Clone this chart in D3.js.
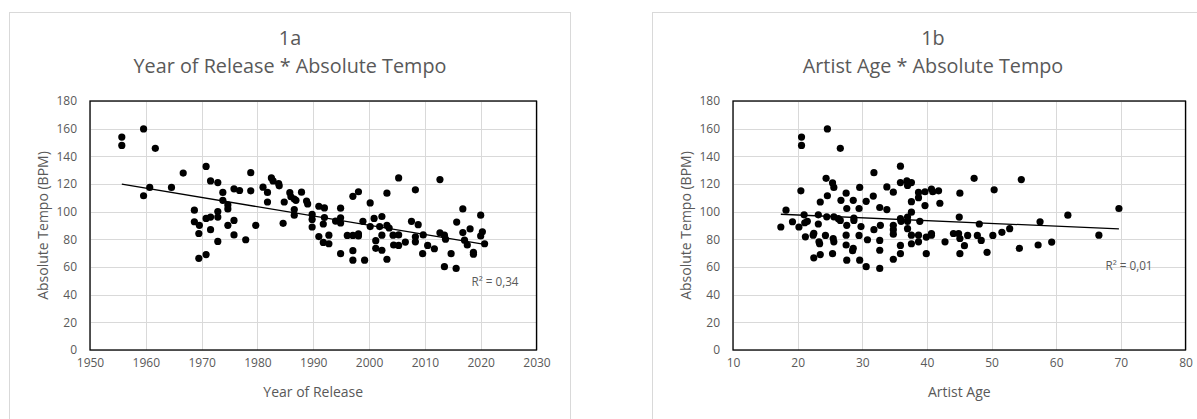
<!DOCTYPE html>
<html>
<head>
<meta charset="utf-8">
<script src="https://cdn.jsdelivr.net/npm/d3@7"></script>
<style>
  html, body { margin: 0; padding: 0; background: #fff; }
  svg { display: block; }
  text { font-family: "Open Sans", Lato, sans-serif; fill: #595959; }
</style>
</head>
<body>
<svg id="chart" width="1197" height="419"></svg>
<script>
// ---------- DATA ----------
const yearOfRelease = [1955.7,1955.7,1959.6,1959.6,1961.7,1960.7,1964.6,1966.7,1968.7,1968.7,
  1969.6,1969.5,1969.5,1970.8,1970.8,1970.8,1971.6,1971.6,1971.6,1972.9,
  1972.9,1972.9,1972.9,1973.8,1973.8,1974.7,1974.7,1974.7,1975.8,1975.8,
  1975.8,1976.8,1977.9,1978.8,1978.8,1979.7,1981.0,1981.8,1981.8,1982.5,
  1982.8,1983.8,1983.9,1984.6,1984.8,1985.8,1986.0,1986.6,1986.6,1986.6,
  1986.9,1987.9,1988.8,1989.0,1989.8,1989.8,1989.8,1991.0,1991.0,1992.0,
  1992.0,1991.8,1991.8,1992.8,1992.8,1994.0,1994.9,1994.9,1994.9,1994.9,
  1996.1,1997.1,1997.1,1997.1,1997.1,1998.1,1998.1,1998.1,1998.9,1999.2,
  2000.2,2000.2,2000.9,2001.2,2001.2,2001.9,2002.3,2002.3,2002.3,2003.2,
  2003.2,2003.2,2003.6,2004.3,2004.4,2005.3,2005.3,2005.3,2006.5,2007.6,
  2008.3,2008.3,2008.3,2008.8,2009.7,2009.6,2010.5,2011.7,2012.7,2012.7,
  2013.5,2013.7,2013.5,2014.7,2015.7,2015.6,2016.8,2016.8,2017.1,2017.6,
  2018.1,2018.7,2018.7,2020.0,2020.0,2020.3,2020.7];
const tempoByYear = [153.9,147.9,159.8,111.5,145.8,117.5,117.5,127.9,101.1,92.7,
  90.1,84.2,66.3,69.0,132.7,95.1,122.2,96.1,87.0,121.0,
  100.1,96.1,78.5,113.9,108.2,104.9,102.0,90.1,116.5,93.7,
  83.2,115.3,79.7,128.2,115.1,90.1,117.7,113.9,107.0,124.4,
  122.2,120.3,118.7,91.6,107.0,113.7,110.8,109.1,101.5,97.5,
  108.2,114.1,107.7,105.6,98.0,94.4,88.9,103.9,82.0,102.7,
  95.8,91.1,77.8,83.0,76.8,93.2,102.5,95.6,91.8,69.7,
  82.8,111.1,82.8,71.8,64.9,114.4,83.9,82.5,93.0,64.9,
  106.3,89.2,95.1,79.0,73.5,89.2,96.5,83.0,72.1,113.4,
  90.1,65.6,88.2,83.0,75.9,124.4,83.2,75.6,78.0,93.0,
  115.8,81.8,78.2,90.6,83.2,69.7,75.6,73.2,123.2,84.7,
  83.0,80.1,60.2,69.7,92.5,59.0,102.0,84.9,79.4,75.9,
  87.5,70.6,69.2,97.5,82.5,85.4,76.8];

const artistAge = [17.4,18.2,19.2,20.2,20.6,20.6,20.5,21.0,21.1,21.5,
  21.2,22.4,22.5,22.5,23.2,23.2,23.3,23.4,23.5,23.5,
  24.4,24.3,24.6,24.6,24.5,25.4,25.6,25.5,25.6,25.4,
  25.6,26.3,26.6,26.6,26.7,27.5,27.6,27.6,27.5,27.5,
  27.6,28.6,28.7,28.7,28.6,28.5,29.6,29.5,29.8,29.5,
  29.6,30.6,30.8,30.6,31.7,31.8,31.8,32.7,32.8,32.7,
  32.7,32.7,33.8,33.8,34.8,34.8,34.8,34.8,34.8,35.9,
  35.9,35.9,36.0,35.9,35.9,36.9,37.0,37.0,37.0,37.0,
  37.6,37.6,37.6,37.6,37.6,38.7,38.7,38.9,38.7,38.7,
  39.7,39.7,39.9,39.9,40.7,40.7,40.7,40.9,41.8,42.0,
  42.8,44.1,44.9,45.1,45.0,45.1,45.1,45.8,46.3,47.3,
  47.8,48.1,48.4,49.3,50.2,50.4,51.6,52.8,54.3,54.6,
  57.2,57.5,59.3,61.8,66.6,69.7];
const tempoByAge = [88.9,101.1,92.7,88.9,153.9,147.9,115.1,97.7,92.0,93.0,
  81.8,83.0,84.4,66.6,97.7,91.1,78.2,76.8,69.0,107.0,
  124.1,82.8,159.8,111.5,96.3,120.8,117.5,80.6,78.2,69.7,
  96.3,94.9,93.7,145.8,108.2,113.4,102.3,90.1,83.0,75.9,
  64.9,108.2,95.4,93.7,73.5,71.8,117.5,102.3,89.2,82.8,
  64.9,107.5,79.7,60.2,111.3,128.2,87.0,103.0,90.1,79.2,
  72.1,59.0,117.9,101.5,114.1,90.1,87.0,83.7,65.6,132.9,
  121.0,94.9,93.0,75.6,69.7,122.2,118.9,96.1,93.0,87.7,
  121.0,107.2,99.6,83.0,76.8,113.9,110.1,93.0,83.0,78.2,
  114.4,104.4,81.6,69.7,116.3,84.2,83.0,114.4,115.1,106.1,
  78.2,84.2,84.2,113.4,96.1,80.6,69.7,75.4,82.8,124.1,
  82.8,91.1,79.2,70.6,82.8,115.8,85.1,87.7,73.5,123.2,
  75.9,92.7,78.0,97.5,83.0,102.3];

const tempoTicks = [0, 20, 40, 60, 80, 100, 120, 140, 160, 180];
const yearTicks = [1950, 1960, 1970, 1980, 1990, 2000, 2010, 2020, 2030];
const ageTicks = [10, 20, 30, 40, 50, 60, 70, 80];

const titleA = ["1a", "Year of Release * Absolute Tempo"];
const titleB = ["1b", "Artist Age * Absolute Tempo"];
const xLabelA = "Year of Release";
const xLabelB = "Artist Age";
const yLabel = "Absolute Tempo (BPM)";
const r2TextA = "R\u00B2 = 0,34";
const r2TextB = "R\u00B2 = 0,01";

// ---------- DRAW ----------
const FONT = "'Open Sans', Lato, sans-serif";
const svg = d3.select("#chart");
svg.append("rect").attr("width", 1197).attr("height", 419).attr("fill", "#fff");

function linreg(xs, ys) {
  const mx = d3.mean(xs), my = d3.mean(ys);
  let sxy = 0, sxx = 0;
  xs.forEach((x, i) => { sxy += (x - mx) * (ys[i] - my); sxx += (x - mx) * (x - mx); });
  const b = sxy / sxx;
  return { b, a: my - b * mx };
}

function drawChart(cfg) {
  const g = svg.append("g");
  // outer frame
  g.append("rect")
    .attr("x", cfg.frame.x).attr("y", cfg.frame.y)
    .attr("width", cfg.frame.w).attr("height", cfg.frame.h)
    .attr("fill", "#fff").attr("stroke", "#d9d9d9").attr("stroke-width", 1);

  const x = d3.scaleLinear().domain(d3.extent(cfg.xTicks)).range([cfg.plot.l, cfg.plot.r]);
  const y = d3.scaleLinear().domain(d3.extent(tempoTicks)).range([cfg.plot.b, cfg.plot.t]);

  // gridlines
  g.append("g").selectAll("line").data(tempoTicks).join("line")
    .attr("x1", cfg.plot.l).attr("x2", cfg.plot.r)
    .attr("y1", d => Math.round(y(d)) + 0.5).attr("y2", d => Math.round(y(d)) + 0.5)
    .attr("stroke", "#d9d9d9").attr("stroke-width", 1);
  g.append("g").selectAll("line").data(cfg.xTicks).join("line")
    .attr("y1", cfg.plot.t).attr("y2", cfg.plot.b)
    .attr("x1", d => Math.round(x(d)) + 0.5).attr("x2", d => Math.round(x(d)) + 0.5)
    .attr("stroke", "#d9d9d9").attr("stroke-width", 1);

  // axes (labels only)
  const ax = g.append("g").attr("transform", `translate(0,${cfg.plot.b})`)
    .call(d3.axisBottom(x).tickValues(cfg.xTicks).tickSize(0).tickPadding(8).tickFormat(d3.format("d")));
  const ay = g.append("g").attr("transform", `translate(${cfg.plot.l},0)`)
    .call(d3.axisLeft(y).tickValues(tempoTicks).tickSize(0).tickPadding(13).tickFormat(d3.format("d")));
  [ax, ay].forEach(a => {
    a.select(".domain").remove();
    a.selectAll("text").attr("fill", "#595959").style("font-size", "12px")
      .style("font-family", FONT);
  });

  // plot border
  g.append("rect")
    .attr("x", cfg.plot.l).attr("y", cfg.plot.t)
    .attr("width", cfg.plot.r - cfg.plot.l).attr("height", cfg.plot.b - cfg.plot.t)
    .attr("fill", "none").attr("stroke", "#000").attr("stroke-width", 1.3);

  // points
  g.append("g").selectAll("circle").data(cfg.xs.map((v, i) => [v, cfg.ys[i]])).join("circle")
    .attr("cx", d => x(d[0])).attr("cy", d => y(d[1])).attr("r", 3.6).attr("fill", "#000");

  // trendline
  const reg = linreg(cfg.xs, cfg.ys);
  const [x0, x1] = d3.extent(cfg.xs);
  g.append("line")
    .attr("x1", x(x0)).attr("y1", y(reg.a + reg.b * x0))
    .attr("x2", x(x1)).attr("y2", y(reg.a + reg.b * x1))
    .attr("stroke", "#000").attr("stroke-width", 1.3);

  // R2 label
  g.append("text").attr("x", cfg.plot.r - cfg.r2dx).attr("y", cfg.r2y)
    .attr("text-anchor", "middle").style("font-size", "11.7px").text(cfg.r2);

  // titles
  const cx = cfg.frame.x + cfg.frame.w / 2;
  g.append("text").attr("x", cx).attr("y", 45).attr("text-anchor", "middle")
    .style("font-size", "19.8px").text(cfg.title[0]);
  g.append("text").attr("x", cx).attr("y", 73).attr("text-anchor", "middle")
    .style("font-size", "19.8px").text(cfg.title[1]);

  // axis titles
  g.append("text").attr("x", (cfg.plot.l + cfg.plot.r) / 2).attr("y", 397)
    .attr("text-anchor", "middle").style("font-size", "14px").text(cfg.xLabel);
  g.append("text")
    .attr("transform", `translate(${cfg.plot.l - 47},${(cfg.plot.t + cfg.plot.b) / 2}) rotate(-90)`)
    .attr("text-anchor", "middle").attr("dy", "0.35em").style("font-size", "14px").text(yLabel);
}

drawChart({
  frame: { x: 9.5, y: 12.5, w: 561, h: 420 },
  plot: { l: 90, r: 536.5, t: 101, b: 350 },
  xTicks: yearTicks, xs: yearOfRelease, ys: tempoByYear,
  title: titleA, xLabel: xLabelA, r2: r2TextA, r2dx: 41.5, r2y: 286
});
drawChart({
  frame: { x: 652.5, y: 12.5, w: 561, h: 420 },
  plot: { l: 733, r: 1185.5, t: 101, b: 350 },
  xTicks: ageTicks, xs: artistAge, ys: tempoByAge,
  title: titleB, xLabel: xLabelB, r2: r2TextB, r2dx: 56.5, r2y: 270
});
</script>
</body>
</html>
